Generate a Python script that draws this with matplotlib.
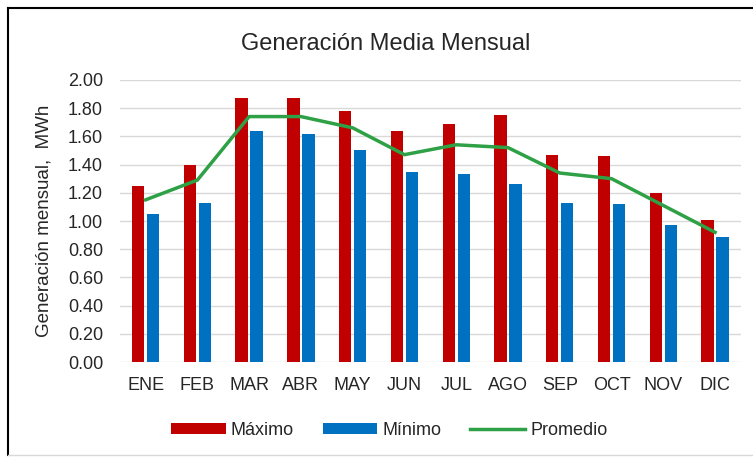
import matplotlib.pyplot as plt
import numpy as np

meses = ["ENE", "FEB", "MAR", "ABR", "MAY", "JUN", "JUL", "AGO", "SEP", "OCT", "NOV", "DIC"]
maximo = [1.25, 1.40, 1.87, 1.87, 1.78, 1.64, 1.69, 1.75, 1.47, 1.46, 1.20, 1.01]
minimo = [1.05, 1.13, 1.64, 1.62, 1.50, 1.35, 1.33, 1.26, 1.13, 1.12, 0.97, 0.89]
promedio = [1.15, 1.29, 1.74, 1.74, 1.66, 1.47, 1.54, 1.52, 1.34, 1.30, 1.11, 0.92]

plt.rcParams['font.family'] = ['Liberation Sans', 'DejaVu Sans']

fig = plt.figure(figsize=(7.53, 4.59), dpi=100)
ax = fig.add_axes([0.159, 0.211, 0.825, 0.615])

x = np.arange(len(meses))
w = 0.24
b1 = ax.bar(x - 0.145, maximo, w, color="#C00000", label="Máximo", zorder=2)
b2 = ax.bar(x + 0.145, minimo, w, color="#0070C0", label="Mínimo", zorder=2)
l1, = ax.plot(x, promedio, color="#2EA045", lw=2.5, label="Promedio", zorder=3)

ax.set_xlim(-0.5, len(meses) - 0.5)
ax.set_ylim(0, 2.0)
ax.set_yticks(np.arange(0, 2.01, 0.2))
ax.set_yticklabels([f"{v:.2f}" for v in np.arange(0, 2.01, 0.2)])
ax.set_xticks(x)
ax.set_xticklabels(meses)
ax.tick_params(axis="both", length=0, labelsize=13, colors="#262626")
ax.tick_params(axis="y", pad=12)
ax.tick_params(axis="x", pad=11)
ax.yaxis.grid(True, color="#D9D9D9", lw=1, zorder=0)
for s in ax.spines.values():
    s.set_visible(False)

ax.set_ylabel("Generación mensual,  MWh", fontsize=13.5, color="#262626", labelpad=11)
fig.text(0.512, 0.905, "Generación Media Mensual", ha="center", va="center",
         fontsize=17, color="#262626")

fig.legend([b1, b2, l1], ["Máximo", "Mínimo", "Promedio"], loc="center",
           bbox_to_anchor=(0.517, 0.063), ncol=3, frameon=False,
           fontsize=13, handlelength=3.0, handleheight=0.55, handletextpad=0.3,
           columnspacing=1.6, labelcolor="#262626")

# marco del grafico
fig.add_artist(plt.Line2D([0.011, 0.011], [0.008, 0.983], color="black", lw=1.5, transform=fig.transFigure))
fig.add_artist(plt.Line2D([0.011, 1.0], [0.983, 0.983], color="black", lw=1.5, transform=fig.transFigure))
fig.add_artist(plt.Line2D([0.011, 1.0], [0.008, 0.008], color="#D9D9D9", lw=1, transform=fig.transFigure))

fig.savefig("out.png", dpi=100)
